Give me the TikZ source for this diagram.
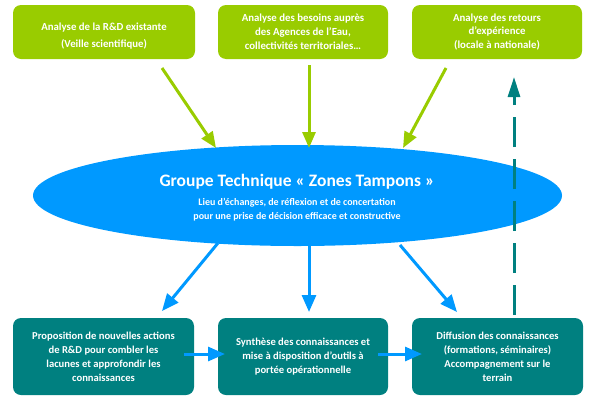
\documentclass[tikz,border=0pt]{standalone}
\usepackage{fontspec}
\setmainfont{Carlito}
\usetikzlibrary{shapes.geometric,arrows.meta}
\definecolor{lgreen}{HTML}{99CC00}
\definecolor{dteal}{HTML}{008080}
\definecolor{sky}{HTML}{0099FF}
\begin{document}
\begin{tikzpicture}[x=1pt,y=-1pt,
  box/.style={rounded corners=8pt, minimum height=54pt, inner sep=0pt, text=white, align=center, font=\bfseries\fontsize{10.8}{13.8}\selectfont},
  topbox/.style={box, fill=lgreen, minimum height=54pt},
  botbox/.style={box, fill=dteal, minimum height=77pt, font=\bfseries\fontsize{10.6}{14}\selectfont},
  garrow/.style={draw=lgreen, line width=3pt, -{Triangle[length=16pt,width=13pt]}},
  barrow/.style={draw=sky, line width=3pt, -{Triangle[length=17pt,width=14pt]}},
  darrow/.style={draw=dteal, line width=3pt, dash pattern=on 30pt off 12pt, -{Triangle[length=20pt,width=12pt]}}]
\useasboundingbox (0,0) rectangle (599,402);

% top boxes
\node[topbox, minimum width=182pt] (t1) at (104,32) {\rule{0pt}{16pt}Analyse de la R\&D existante\\[3pt](Veille scientifique)};
\node[topbox, minimum width=170pt] (t2) at (303,32) {Analyse des besoins auprès\\des Agences de l’Eau,\\collectivités territoriales…};
\node[topbox, minimum width=170pt] (t3) at (497,32) {Analyse des retours\\d’expérience\\(locale à nationale)};

% ellipse
\node[ellipse, fill=sky, minimum width=529pt, minimum height=101pt, inner sep=0pt] (g) at (297.5,195.5) {};
\node[text=white, font=\bfseries\fontsize{17.5}{20}\selectfont] (gt) at (297,182) {Groupe Technique « Zones Tampons »};
\node[text=white, align=center, font=\bfseries\fontsize{10}{14}\selectfont] (gs) at (297,210) {Lieu d’échanges, de réflexion et de concertation\\pour une prise de décision efficace et constructive};

% bottom boxes
\node[botbox, minimum width=181pt] (b1) at (103.5,356.5) {Proposition de nouvelles actions\\de R\&D pour combler les\\lacunes et approfondir les\\connaissances};
\node[botbox, minimum width=170pt] (b2) at (303,356.5) {Synthèse des connaissances et\\mise à disposition d’outils à\\portée opérationnelle};
\node[botbox, minimum width=171pt] (b3) at (497.5,356.5) {Diffusion des connaissances\\(formations, séminaires)\\Accompagnement sur le\\terrain};

% coordinates for free arrow ends
\coordinate (g1s) at (162,68);  \coordinate (g1e) at (216,148);
\coordinate (g2s) at (309,65);  \coordinate (g2e) at (309,148);
\coordinate (g3s) at (446,68);  \coordinate (g3e) at (403,148);
\coordinate (b1s) at (218,243); \coordinate (b1e) at (162,311);
\coordinate (b2s) at (309,245); \coordinate (b2e) at (309,312);
\coordinate (b3s) at (400,245); \coordinate (b3e) at (457,312);
\coordinate (h1s) at (184,354); \coordinate (h1e) at (225,354);
\coordinate (h2s) at (378,354); \coordinate (h2e) at (422,354);
\coordinate (ds) at (514,315);  \coordinate (de) at (514,77);

\draw[garrow] (g1s) -- (g1e);
\draw[garrow] (g2s) -- (g2e);
\draw[garrow] (g3s) -- (g3e);
\draw[barrow] (b1s) -- (b1e);
\draw[barrow] (b2s) -- (b2e);
\draw[barrow] (b3s) -- (b3e);
\draw[barrow] (h1s) -- (h1e);
\draw[barrow] (h2s) -- (h2e);
\draw[darrow] (ds) -- (de);
\end{tikzpicture}
\end{document}
